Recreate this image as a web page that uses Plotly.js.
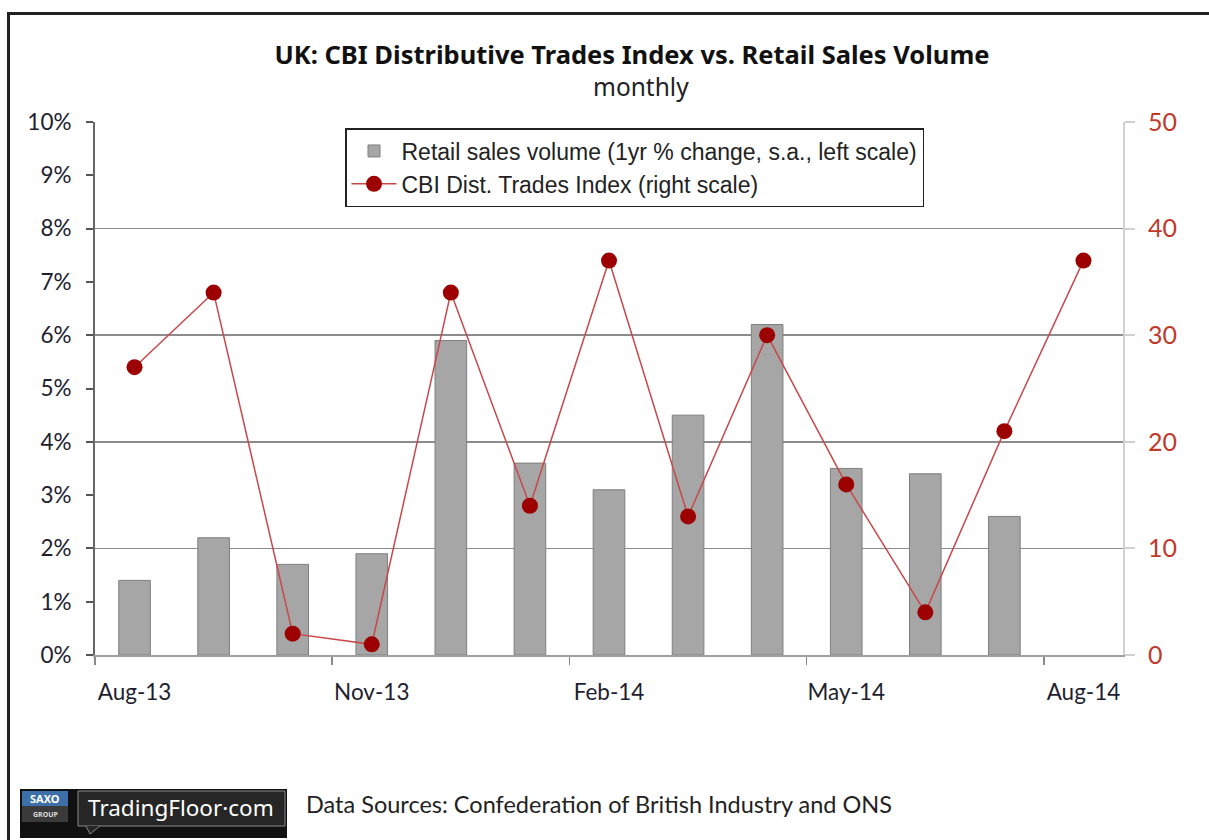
<!DOCTYPE html>
<html>
<head>
<meta charset="utf-8">
<script src="https://cdn.plot.ly/plotly-3.0.1.min.js"></script>
<style>
  html, body { margin: 0; padding: 0; background: #fff; }
  #wrap { position: relative; width: 1209px; height: 840px; }
  #frame { position: absolute; left: 7px; top: 12px; width: 1202px; height: 828px;
           border-top: 3px solid #222; border-left: 3px solid #222; box-sizing: border-box; pointer-events: none; z-index: 5; }
  #chart { width: 1209px; height: 840px; }
</style>
</head>
<body>
<div id="wrap">
  <div id="chart"></div>
  <div id="frame"></div>
</div>
<script>
// ---- data ----
const months = ["Aug-13","Sep-13","Oct-13","Nov-13","Dec-13","Jan-14","Feb-14","Mar-14","Apr-14","May-14","Jun-14","Jul-14","Aug-14"];
const retailSales = [1.4, 2.2, 1.7, 1.9, 5.9, 3.6, 3.1, 4.5, 6.2, 3.5, 3.4, 2.6, null];   // % y/y, left scale
const cbiIndex = [27, 34, 2, 1, 34, 14, 37, 13, 30, 16, 4, 21, 37];                          // right scale
const tickLabels = ["Aug-13","Nov-13","Feb-14","May-14","Aug-14"];
const leftTicks = [0,1,2,3,4,5,6,7,8,9,10];
const rightTicks = [0,10,20,30,40,50];

// ---- geometry helpers (plot area in pixels) ----
const L = 95, R = 1123, T = 122, B = 655;
const px = x => (x - L) / (R - L);
const py = y => (B - y) / (B - T);

const idx = months.map((_, i) => i);
const labelIdx = tickLabels.map(t => months.indexOf(t));

const bars = {
  type: 'bar', name: 'Retail sales volume (1yr % change, s.a., left scale)',
  x: idx.slice(0, retailSales.length), y: retailSales, width: 0.4,
  marker: { color: '#a6a6a6', line: { color: '#7f7f7f', width: 1 } },
  xaxis: 'x', yaxis: 'y', hoverinfo: 'skip'
};
const line = {
  type: 'scatter', mode: 'lines+markers', name: 'CBI Dist. Trades Index (right scale)',
  x: idx, y: cbiIndex,
  line: { color: '#c8484a', width: 1.5 },
  marker: { color: '#9c0000', size: 16 },
  xaxis: 'x', yaxis: 'y2', hoverinfo: 'skip'
};

const tickFont = { family: 'Lato, "Liberation Sans", sans-serif', size: 22.5, color: '#1e1e2e' };

const shapes = [
  // logo
  { type: 'rect', xref: 'paper', yref: 'paper', x0: px(20), x1: px(287), y0: py(838), y1: py(789), fillcolor: '#111', line: { width: 0 }, layer: 'above' },
  { type: 'rect', xref: 'paper', yref: 'paper', x0: px(22), x1: px(68), y0: py(806), y1: py(791), fillcolor: '#3d6fa8', line: { width: 0 }, layer: 'above' },
  { type: 'rect', xref: 'paper', yref: 'paper', x0: px(22), x1: px(68), y0: py(822), y1: py(806), fillcolor: '#3a3a3a', line: { width: 0 }, layer: 'above' },
  { type: 'rect', xref: 'paper', yref: 'paper', x0: px(78), x1: px(285), y0: py(826), y1: py(791), fillcolor: '#262626', line: { color: '#8a8a8a', width: 1 }, layer: 'above' },
  { type: 'path', xref: 'paper', yref: 'paper', layer: 'above',
    path: `M ${px(86)} ${py(826)} L ${px(90)} ${py(834)} L ${px(100)} ${py(826)}`,
    line: { color: '#8a8a8a', width: 1 }, fillcolor: '#262626' }
];

const annotations = [
  { xref: 'paper', yref: 'paper', x: px(641), y: py(87), text: 'monthly', showarrow: false,
    xanchor: 'center', yanchor: 'middle', font: { family: '"Noto Sans", sans-serif', size: 24.5, color: '#222' } },
  { xref: 'paper', yref: 'paper', x: px(304), y: py(804), text: 'Data Sources: Confederation of British Industry and ONS', showarrow: false,
    xanchor: 'left', yanchor: 'middle', font: { family: 'Lato, "Noto Sans", sans-serif', size: 23.5, color: '#222' } },
  { xref: 'paper', yref: 'paper', x: px(181), y: py(807), text: 'TradingFloor·com', showarrow: false,
    xanchor: 'center', yanchor: 'middle', font: { family: '"Noto Sans", sans-serif', size: 22.5, color: '#fff' } },
  { xref: 'paper', yref: 'paper', x: px(45), y: py(798.5), text: '<b>SAXO</b>', showarrow: false,
    xanchor: 'center', yanchor: 'middle', font: { family: '"Noto Sans", sans-serif', size: 11, color: '#fff' } },
  { xref: 'paper', yref: 'paper', x: px(45), y: py(814), text: '<b>GROUP</b>', showarrow: false,
    xanchor: 'center', yanchor: 'middle', font: { family: '"Noto Sans", sans-serif', size: 7, color: '#ddd' } }
];

const layout = {
  width: 1209, height: 840,
  margin: { l: L, r: 1209 - R, t: T, b: 840 - B, pad: 0 },
  paper_bgcolor: '#fff', plot_bgcolor: '#fff',
  title: { text: '<b>UK: CBI Distributive Trades Index vs. Retail Sales Volume</b>',
           x: 632 / 1209, xanchor: 'center', xref: 'container',
           y: 1 - 55 / 840, yanchor: 'middle', yref: 'container',
           font: { family: '"Noto Sans", sans-serif', size: 25.5, color: '#111' } },
  showlegend: true,
  legend: { x: px(345), y: py(128), xanchor: 'left', yanchor: 'top',
            bgcolor: '#fff', bordercolor: '#222', borderwidth: 1.5,
            font: { family: '"Liberation Sans", Arial, sans-serif', size: 23, color: '#222' },
            itemwidth: 45, tracegroupgap: 4, traceorder: 'normal' },
  bargap: 0.6,
  xaxis: {
    range: [-0.5, months.length - 0.5], tickmode: 'array', tickvals: labelIdx, ticktext: tickLabels,
    ticks: '', ticklabelstandoff: 16, tickfont: tickFont,
    showline: true, linecolor: '#a0a0a0', linewidth: 2, showgrid: false, zeroline: false,
    minor: { tickmode: 'linear', tick0: -0.5, dtick: 3, ticks: 'outside', ticklen: 8, tickwidth: 1.5, tickcolor: '#888', showgrid: false },
    fixedrange: true
  },
  yaxis: {
    range: [0, 10], tickmode: 'array', tickvals: leftTicks, ticktext: leftTicks.map(v => v + '%'),
    ticks: 'outside', ticklen: 7, tickwidth: 2, tickcolor: '#555',
    showline: true, linecolor: '#666', linewidth: 2, showgrid: false, zeroline: false,
    tickfont: tickFont, ticklabelstandoff: 10, fixedrange: true
  },
  yaxis2: {
    range: [0, 50], overlaying: 'y', side: 'right', tickmode: 'array', tickvals: rightTicks,
    ticks: 'outside', ticklen: 10, tickwidth: 2, tickcolor: '#d0d0d0',
    showline: true, linecolor: '#d0d0d0', linewidth: 2,
    showgrid: true, gridcolor: '#8c8c8c', gridwidth: 1.5, zeroline: false,
    tickfont: { family: 'Lato, "Liberation Sans", sans-serif', size: 25, color: '#c0392b' },
    ticklabelstandoff: 8, fixedrange: true
  },
  shapes: shapes,
  annotations: annotations
};

Plotly.newPlot('chart', [bars, line], layout, { displayModeBar: false, staticPlot: true });
</script>
</body>
</html>
